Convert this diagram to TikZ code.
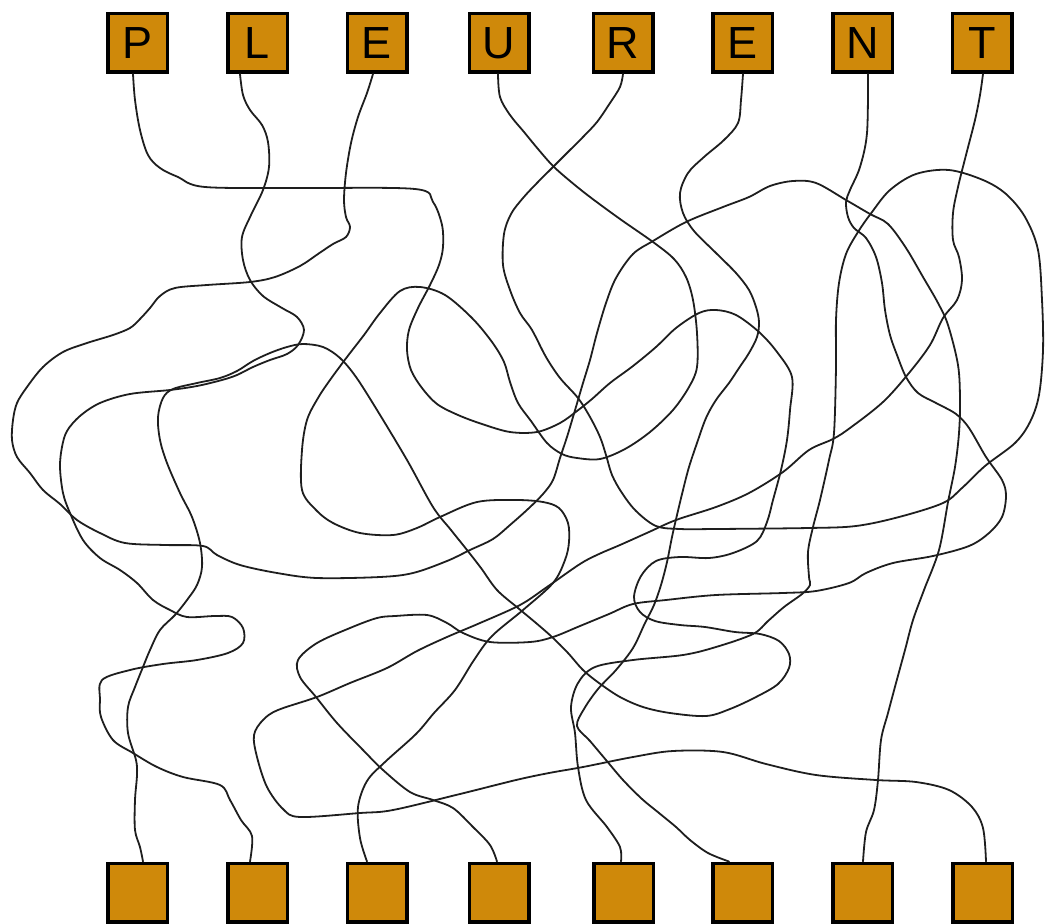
\documentclass[tikz,border=0pt]{standalone}
\usepackage{fontspec}
\setmainfont{Liberation Sans}
\definecolor{boxorange}{RGB}{207,137,10}
\definecolor{ink}{RGB}{30,30,30}
\begin{document}
\begin{tikzpicture}[x=1pt,y=-1pt,
  box/.style={draw=black,line width=3.5pt,fill=boxorange,minimum width=59.5pt,minimum height=58.5pt,inner sep=0pt,font=\fontsize{45}{45}\selectfont},
  wire/.style={draw=ink,line width=1.8pt,line join=round,line cap=round}]
\useasboundingbox (0,0) rectangle (1046,923);
% top boxes
\node[box] (t1) at (137.5,43) {P};
\node[box] (t2) at (257.5,43) {L};
\node[box] (t3) at (377,43) {E};
\node[box] (t4) at (499,43) {U};
\node[box] (t5) at (623,43) {R};
\node[box] (t6) at (742.5,43) {E};
\node[box] (t7) at (862.5,43) {N};
\node[box] (t8) at (982,43) {T};
% bottom boxes
\node[box] (b1) at (137.5,892.5) {};
\node[box] (b2) at (257.5,892.5) {};
\node[box] (b3) at (377,892.5) {};
\node[box] (b4) at (499,892.5) {};
\node[box] (b5) at (623.5,892.5) {};
\node[box] (b6) at (742.5,892.5) {};
\node[box] (b7) at (862.5,892.5) {};
\node[box] (b8) at (982.5,892.5) {};
% P
\draw[wire] plot[smooth,tension=0.55] coordinates {([xshift=-4.5pt]t1.south) (135,100) (140,130) (148,155) (160,168) (178,177) (205,187) (300,188) (415,189) (433,202) (442,225) (443,247) (439,265) (430,285) (418,308) (409,330) (407,350) (411,370) (422,388) (437,404) (458,415) (482,424) (510,432) (537,432) (560,423) (577,411) (592,399) (610,383) (633,366) (656,347) (676,328) (699,313) (716,310) (736,315) (759,332) (777,352) (792,377) (790,410) (787,440) (781,470) (773,500) (767,522) (757,541) (733,553) (709,558) (680,557) (656,561) (641,576) (634,597) (640,612) (655,621) (680,625) (705,627) (735,632) (760,634) (779,641) (789,654) (789,668) (778,684) (756,697) (730,709) (706,716) (670,713) (643,707) (620,697) (599,683) (583,670) (568,653) (552,637) (536,623) (518,608) (497,590) (481,568) (467,550) (451,530) (433,507) (407,460) (377,410) (356,377) (340,358) (323,347) (303,344) (287,347) (270,353) (253,361) (237,371) (220,378) (197,383) (173,389) (163,398) (158,417) (160,440) (167,463) (180,493) (192,517) (200,543) (202,567) (197,585) (187,600) (175,615) (160,630) (150,650) (143,667) (135,687) (128,707) (128,733) (136,760) (137,775) (135,800) (135,830) (140,847) ([xshift=5.5pt]b1.north)};
% L
\draw[wire] plot[smooth,tension=0.55] coordinates {([xshift=-17.5pt]t2.south) (243,95) (250,110) (262,125) (268,142) (269,167) (263,190) (251,215) (242,237) (243,260) (250,280) (263,296) (282,308) (297,317) (304,330) (298,345) (287,354) (270,360) (253,367) (237,375) (222,380) (197,386) (170,390) (130,394) (100,403) (80,416) (67,431) (62,447) (60,467) (63,493) (70,513) (83,540) (100,558) (120,570) (137,583) (153,600) (170,610) (187,617) (215,616) (232,617) (243,628) (243,643) (228,653) (197,660) (163,664) (130,670) (102,680) (100,700) (101,717) (113,740) (133,753) (157,767) (183,777) (220,785) (230,800) (241,820) (252,836) ([xshift=-7.5pt]b2.north)};
% E (third)
\draw[wire] plot[smooth,tension=0.55] coordinates {([xshift=-4pt]t3.south) (367,93) (358,117) (351,143) (346,173) (344,200) (346,217) (350,227) (346,237) (333,244) (318,254) (300,266) (275,277) (250,282) (207,285) (175,288) (160,296) (150,308) (140,319) (130,328) (113,335) (87,343) (63,352) (43,367) (27,387) (17,403) (13,420) (12,440) (17,457) (30,473) (43,490) (60,504) (77,520) (100,533) (125,543) (165,545) (203,546) (217,555) (240,565) (277,573) (317,578) (380,577) (413,573) (447,561) (470,550) (493,539) (510,525) (528,509) (543,494) (553,480) (560,458) (567,437) (573,417) (578,400) (583,383) (590,360) (597,333) (606,303) (616,278) (633,254) (653,241) (686,222) (723,207) (749,197) (770,186) (793,181) (816,183) (846,200) (870,214) (888,224) (906,248) (923,277) (938,303) (948,325) (958,365) (960,400) (959,433) (955,467) (948,502) (939,550) (924,590) (913,620) (905,650) (896,683) (888,713) (881,740) (878,780) (874,810) (866,832) ([xshift=0.5pt]b7.north)};
% U
\draw[wire] plot[smooth,tension=0.55] coordinates {([xshift=-1pt]t4.south) (500,97) (510,115) (524,132) (538,149) (553,166) (570,181) (590,197) (620,219) (653,242) (674,259) (686,277) (693,300) (697,333) (697,367) (689,387) (673,410) (650,432) (625,449) (600,459) (577,458) (562,454) (547,443) (531,421) (518,403) (510,382) (504,362) (492,342) (472,318) (445,295) (420,287) (400,291) (380,313) (364,335) (347,357) (330,380) (318,398) (307,420) (302,450) (302,490) (316,510) (333,523) (360,533) (393,535) (417,528) (440,517) (477,502) (516,500) (543,502) (559,508) (568,523) (569,542) (565,560) (553,583) (523,610) (492,636) (474,660) (455,690) (434,713) (416,734) (385,762) (367,781) (358,807) (360,838) ([xshift=-10pt]b3.north)};
% R
\draw[wire] plot[smooth,tension=0.55] coordinates {(t5.south) (620,87) (610,103) (597,122) (583,137) (569,151) (553,167) (537,183) (523,198) (511,214) (504,234) (503,265) (510,290) (520,313) (532,330) (546,357) (560,378) (578,398) (590,417) (600,437) (606,455) (612,475) (622,493) (636,511) (656,526) (680,529) (716,529) (809,528) (856,526) (899,517) (943,503) (962,488) (985,466) (1015,443) (1030,422) (1039,395) (1043,350) (1042,300) (1038,250) (1025,217) (1006,194) (983,180) (949,170) (916,174) (890,190) (872,212) (858,232) (846,254) (839,283) (836,320) (836,367) (834,433) (829,460) (820,500) (813,527) (808,552) (809,577) (810,585) (802,594) (784,607) (768,621) (753,634) (716,647) (683,655) (633,660) (595,667) (578,683) (571,707) (575,733) (578,767) (586,800) (607,827) (620,847) ([xshift=-2.5pt]b5.north)};
% E (sixth)
\draw[wire] plot[smooth,tension=0.55] coordinates {([xshift=0.5pt]t6.south) (741,100) (738,123) (724,140) (704,157) (688,173) (680,193) (683,213) (694,231) (716,253) (736,273) (749,290) (756,307) (759,322) (757,337) (749,353) (739,368) (729,383) (716,400) (706,418) (697,443) (689,467) (683,490) (677,515) (672,537) (667,562) (661,585) (654,605) (645,623) (633,648) (616,670) (598,689) (584,709) (577,726) (590,741) (606,760) (623,780) (642,799) (659,813) (676,827) (690,840) (708,853) ([xshift=-13.5pt]b6.north)};
% N
\draw[wire] plot[smooth,tension=0.55] coordinates {([xshift=5.5pt]t7.south) (867,133) (860,167) (850,190) (846,202) (848,217) (854,228) (866,238) (876,257) (882,283) (885,310) (890,335) (897,355) (906,377) (918,393) (936,403) (956,414) (969,428) (986,457) (1002,480) (1006,496) (1002,517) (989,533) (969,546) (933,556) (893,563) (866,573) (849,583) (816,591) (783,593) (716,595) (666,600) (633,604) (609,614) (580,626) (553,637) (530,642) (490,642) (463,633) (447,623) (427,615) (395,616) (377,618) (350,628) (317,643) (298,660) (300,677) (316,697) (337,723) (363,750) (383,770) (410,792) (433,800) (453,808) (473,827) (490,845) ([xshift=-2pt]b4.north)};
% T
\draw[wire] plot[smooth,tension=0.55] coordinates {([xshift=1pt]t8.south) (980,95) (975,120) (966,155) (958,187) (953,213) (953,240) (959,257) (962,280) (957,300) (943,318) (930,345) (909,373) (883,402) (850,428) (833,439) (809,450) (783,472) (749,493) (716,507) (676,520) (649,532) (620,545) (599,554) (580,564) (547,587) (520,605) (480,623) (447,637) (417,651) (387,668) (350,683) (317,697) (278,710) (263,720) (254,735) (257,757) (267,787) (283,809) (300,817) (360,813) (393,810) (460,794) (516,780) (549,773) (583,767) (633,757) (673,751) (723,752) (766,764) (816,775) (876,780) (916,782) (949,790) (972,807) (983,828) ([xshift=3.5pt]b8.north)};
\end{tikzpicture}
\end{document}
